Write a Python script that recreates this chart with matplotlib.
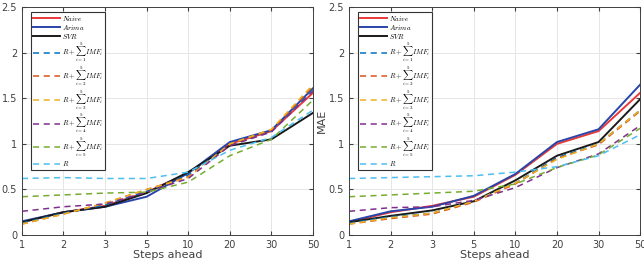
import numpy as np
import matplotlib.pyplot as plt

steps = ['1', '2', '3', '5', '10', '20', '30', '50']

# left panel
naive_l = [0.14, 0.25, 0.32, 0.47, 0.68, 1.00, 1.14, 1.56]
arima_l = [0.15, 0.25, 0.31, 0.42, 0.68, 1.02, 1.15, 1.61]
svr_l = [0.14, 0.25, 0.31, 0.46, 0.69, 0.98, 1.05, 1.34]
imf1_l = [0.13, 0.24, 0.33, 0.48, 0.66, 0.99, 1.14, 1.60]
imf2_l = [0.12, 0.23, 0.35, 0.50, 0.64, 0.99, 1.15, 1.63]
imf3_l = [0.12, 0.23, 0.35, 0.50, 0.63, 1.00, 1.16, 1.65]
imf4_l = [0.26, 0.31, 0.34, 0.47, 0.62, 0.98, 1.13, 1.58]
imf5_l = [0.42, 0.44, 0.46, 0.47, 0.58, 0.87, 1.05, 1.48]
res_l = [0.62, 0.63, 0.62, 0.62, 0.69, 0.93, 1.07, 1.37]

# right panel
naive_r = [0.14, 0.25, 0.32, 0.42, 0.66, 1.00, 1.14, 1.56]
arima_r = [0.15, 0.26, 0.31, 0.43, 0.67, 1.02, 1.16, 1.65]
svr_r = [0.14, 0.21, 0.27, 0.37, 0.60, 0.87, 1.02, 1.49]
imf1_r = [0.13, 0.20, 0.24, 0.37, 0.57, 0.85, 1.00, 1.37]
imf2_r = [0.12, 0.18, 0.23, 0.36, 0.56, 0.84, 0.99, 1.36]
imf3_r = [0.12, 0.19, 0.24, 0.37, 0.57, 0.83, 1.00, 1.37]
imf4_r = [0.26, 0.30, 0.31, 0.38, 0.52, 0.74, 0.89, 1.20]
imf5_r = [0.42, 0.44, 0.46, 0.48, 0.56, 0.74, 0.88, 1.17]
res_r = [0.62, 0.63, 0.64, 0.65, 0.69, 0.75, 0.87, 1.10]

labels = [r'$Naive$', r'$Arima$', r'$SVR$',
          r'$R+\sum_{i=1}^{5}IMF_i$', r'$R+\sum_{i=2}^{5}IMF_i$',
          r'$R+\sum_{i=3}^{5}IMF_i$', r'$R+\sum_{i=4}^{5}IMF_i$',
          r'$R+\sum_{i=5}^{5}IMF_i$', r'$R$']
colors = ['#e8393a', '#2a45a8', '#1a1a1a',
          '#0072BD', '#D95319', '#EDB120', '#7E2F8E', '#77AC30', '#4DBEEE']
styles = ['-', '-', '-', '--', '--', '--', '--', '--', '--']

plt.rcParams['mathtext.fontset'] = 'cm'

fig = plt.figure(figsize=(6.44, 2.61), dpi=100)
ax1 = fig.add_axes([0.034, 0.0996, 0.452, 0.873])
ax2 = fig.add_axes([0.542, 0.0996, 0.452, 0.873])

x = np.arange(len(steps))
panels = [
    (ax1, [naive_l, arima_l, svr_l, imf1_l, imf2_l, imf3_l, imf4_l, imf5_l, res_l]),
    (ax2, [naive_r, arima_r, svr_r, imf1_r, imf2_r, imf3_r, imf4_r, imf5_r, res_r]),
]
for ax, series in panels:
    for s, lab, c, ls in zip(series, labels, colors, styles):
        if ls == '--':
            ax.plot(x, s, color=c, lw=1.1, label=lab, dashes=(4, 3))
        else:
            ax.plot(x, s, color=c, lw=1.4, label=lab)
    ax.set_xlim(0, len(steps) - 1)
    ax.set_ylim(0, 2.5)
    ax.set_xticks(x)
    ax.set_xticklabels(steps)
    ax.set_yticks([0, 0.5, 1, 1.5, 2, 2.5])
    ax.set_yticklabels(['0', '0.5', '1', '1.5', '2', '2.5'])
    ax.grid(True, color='#e6e6e6', lw=0.7)
    ax.tick_params(direction='in', labelsize=7, colors='#404040', length=3, top=True, right=True,
                   labeltop=False, labelright=False)
    for sp in ax.spines.values():
        sp.set_color('#404040')
        sp.set_linewidth(0.7)
    ax.set_xlabel('Steps ahead', fontsize=8, color='#404040', labelpad=0)
    ax.set_ylabel('MAE', fontsize=8, color='#404040', labelpad=1)
    leg = ax.legend(loc='upper left', bbox_to_anchor=(0.03, 0.98), fontsize=5.1, frameon=True,
                    fancybox=False, edgecolor='#333333', framealpha=1, handlelength=3.8,
                    labelspacing=0.0, borderaxespad=0, handletextpad=0.3, borderpad=0.3)
    leg.get_frame().set_linewidth(0.8)

fig.savefig('out.png', dpi=100)
